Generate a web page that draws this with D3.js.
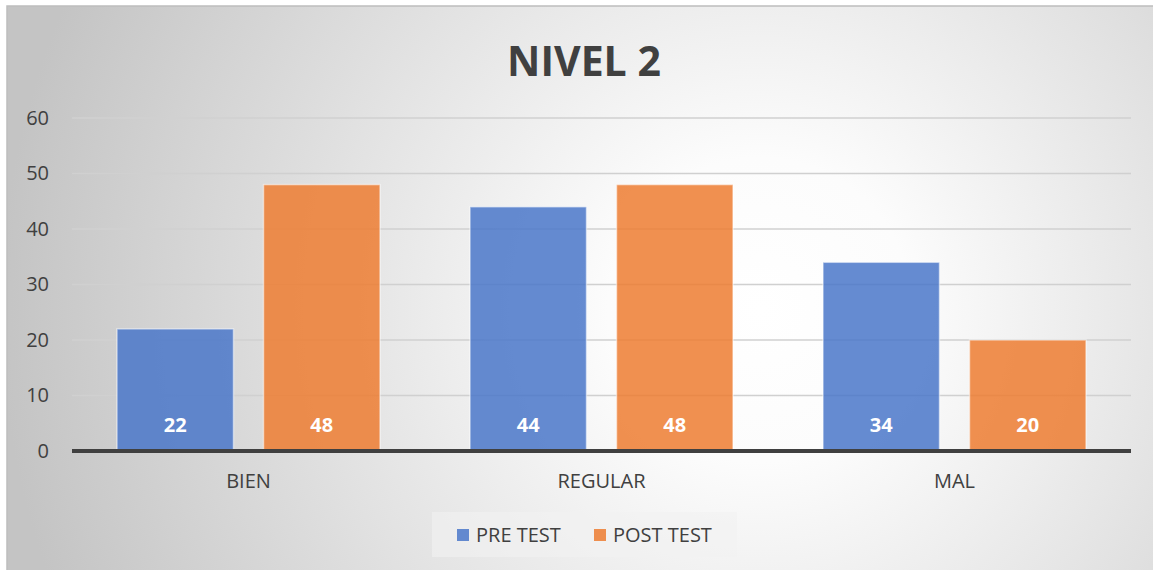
<!DOCTYPE html>
<html>
<head>
<meta charset="utf-8">
<script src="https://cdn.jsdelivr.net/npm/d3@7"></script>
<style>
  body { margin: 0; background: #fff; }
  svg text { font-family: "Open Sans", sans-serif; }
</style>
</head>
<body>
<div class="chart"></div>
<script>
// data
var categories = ["BIEN", "REGULAR", "MAL"];
var seriesNames = ["PRE TEST", "POST TEST"];
var preTest = [22, 44, 34];
var postTest = [48, 48, 20];
var yTicks = [0, 10, 20, 30, 40, 50, 60];
var colors = ["#4a77c9", "#ed7d31"];

var rows = categories.map(function(c, i) {
  return { cat: c, values: [preTest[i], postTest[i]] };
});

var W = 1153, H = 570;
var svg = d3.select(".chart").append("svg")
  .attr("width", W).attr("height", H);

var defs = svg.append("defs");
var grad = defs.append("radialGradient")
  .attr("id", "bg")
  .attr("gradientUnits", "userSpaceOnUse")
  .attr("cx", 760).attr("cy", 310).attr("r", 760);
grad.append("stop").attr("offset", "0%").attr("stop-color", "#ffffff");
grad.append("stop").attr("offset", "20%").attr("stop-color", "#fcfcfc");
grad.append("stop").attr("offset", "100%").attr("stop-color", "#c4c4c4");

// chart area
svg.append("rect")
  .attr("x", 7).attr("y", 6)
  .attr("width", W).attr("height", H)
  .attr("fill", "url(#bg)")
  .attr("stroke", "#bdbdbd")
  .attr("stroke-width", 1.5);

var plotL = 72, plotR = 1131, plotT = 118, plotB = 451;

var y = d3.scaleLinear().domain([0, 60]).range([plotB, plotT]);

var x0 = d3.scaleBand()
  .domain(categories)
  .range([plotL, plotR])
  .paddingInner(0.255)
  .paddingOuter(0.1275);

var x1 = d3.scaleBand()
  .domain(seriesNames)
  .range([0, x0.bandwidth()])
  .paddingInner(0.205);

// title
svg.append("text")
  .attr("x", 584).attr("y", 76)
  .attr("text-anchor", "middle")
  .attr("fill", "#404040")
  .style("font-size", "41px")
  .style("font-weight", "bold")
  .text("NIVEL 2");

// gridlines
svg.append("g").selectAll("line")
  .data(yTicks.filter(function(d) { return d > 0; }))
  .enter().append("line")
  .attr("x1", plotL).attr("x2", plotR)
  .attr("y1", function(d) { return y(d); })
  .attr("y2", function(d) { return y(d); })
  .attr("stroke", "#d0d0d0")
  .attr("stroke-width", 1.5);

// y axis labels
var yAxis = d3.axisLeft(y).tickValues(yTicks).tickSize(0).tickPadding(0);
svg.append("g")
  .attr("transform", "translate(49,0)")
  .call(yAxis)
  .call(function(g) { g.select(".domain").remove(); })
  .selectAll("text")
  .attr("fill", "#404040")
  .style("font-size", "20px")
  .style("font-family", "Open Sans");

// bars
var groups = svg.append("g").selectAll("g")
  .data(rows).enter().append("g")
  .attr("transform", function(d) { return "translate(" + x0(d.cat) + ",0)"; });

groups.selectAll("rect")
  .data(function(d) { return d.values.map(function(v, i) { return { name: seriesNames[i], v: v, i: i }; }); })
  .enter().append("rect")
  .attr("x", function(d) { return x1(d.name); })
  .attr("y", function(d) { return y(d.v); })
  .attr("width", x1.bandwidth())
  .attr("height", function(d) { return y(0) - y(d.v); })
  .attr("fill", function(d) { return colors[d.i]; })
  .attr("fill-opacity", 0.85)
  .attr("stroke", "#ffffff")
  .attr("stroke-opacity", 0.5)
  .attr("stroke-width", 1.5);

groups.selectAll("text")
  .data(function(d) { return d.values.map(function(v, i) { return { name: seriesNames[i], v: v }; }); })
  .enter().append("text")
  .attr("x", function(d) { return x1(d.name) + x1.bandwidth() / 2; })
  .attr("y", 432)
  .attr("text-anchor", "middle")
  .attr("fill", "#ffffff")
  .style("font-size", "20px")
  .style("font-weight", "bold")
  .text(function(d) { return d.v; });

// baseline
svg.append("line")
  .attr("x1", plotL).attr("x2", plotR)
  .attr("y1", y(0)).attr("y2", y(0))
  .attr("stroke", "#404040")
  .attr("stroke-width", 4);

// category labels
var xAxis = d3.axisBottom(x0).tickSize(0).tickPadding(0);
svg.append("g")
  .attr("transform", "translate(0,474)")
  .call(xAxis)
  .call(function(g) { g.select(".domain").remove(); })
  .selectAll("text")
  .attr("fill", "#404040")
  .style("font-size", "20px")
  .style("font-family", "Open Sans");

// legend
svg.append("rect")
  .attr("x", 432).attr("y", 512)
  .attr("width", 305).attr("height", 45)
  .attr("fill", "#f2f2f2")
  .attr("fill-opacity", 0.6);

var legendX = [457, 594];
var leg = svg.append("g").selectAll("g")
  .data(seriesNames).enter().append("g")
  .attr("transform", function(d, i) { return "translate(" + legendX[i] + ",529)"; });
leg.append("rect")
  .attr("width", 12).attr("height", 12)
  .attr("fill", function(d, i) { return colors[i]; })
  .attr("fill-opacity", 0.85);
leg.append("text")
  .attr("x", 19).attr("y", 13)
  .attr("fill", "#404040")
  .style("font-size", "20px")
  .text(function(d) { return d; });
</script>
</body>
</html>
